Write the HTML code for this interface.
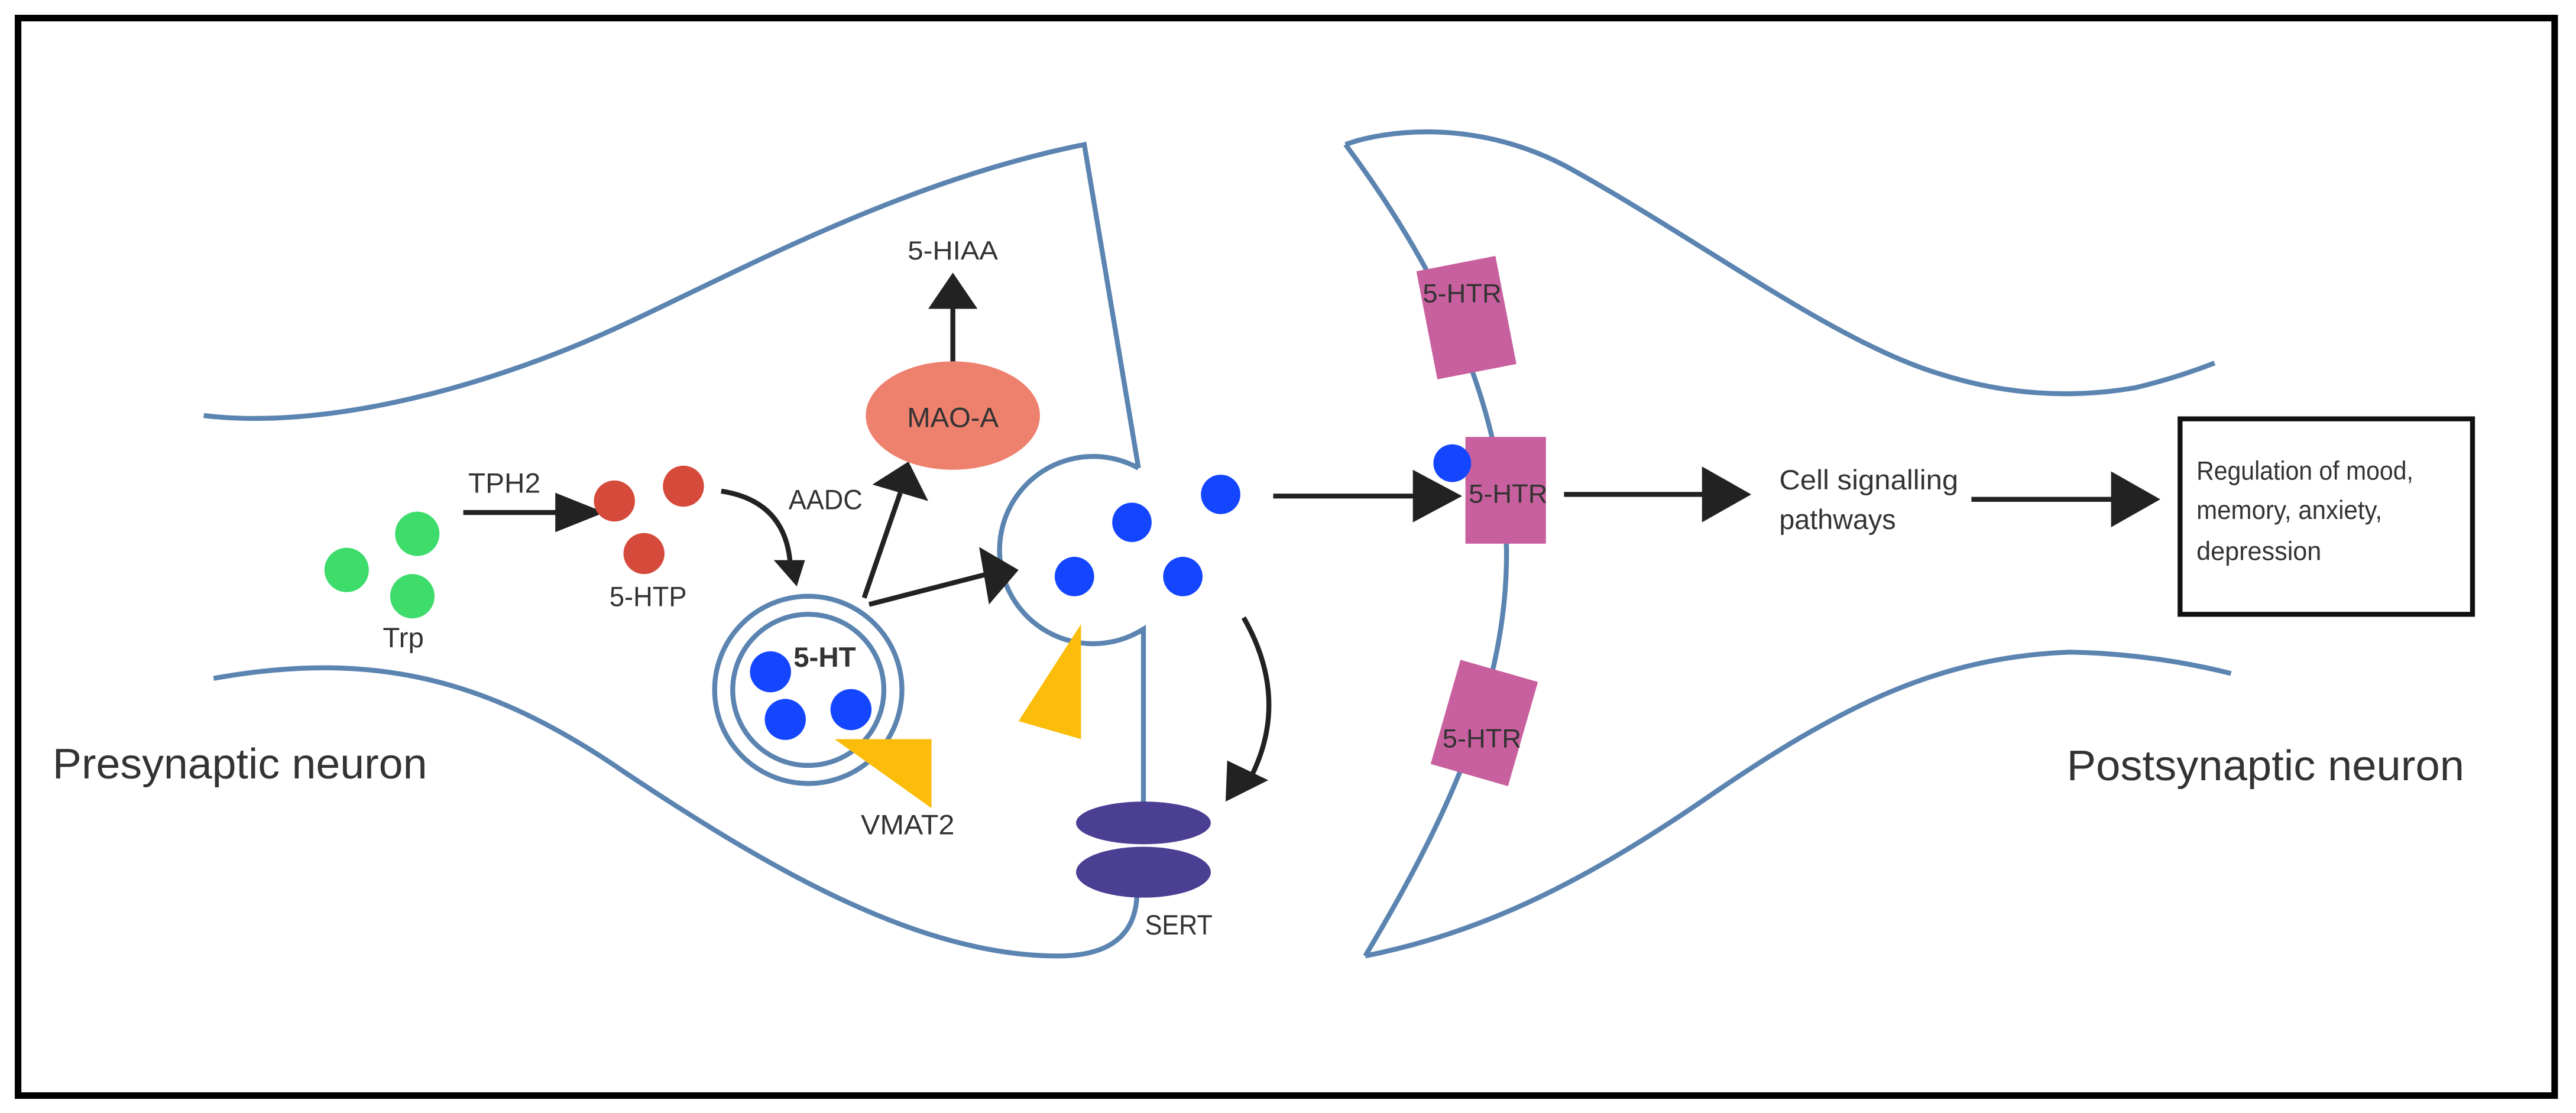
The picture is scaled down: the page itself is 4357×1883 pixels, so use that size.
<!DOCTYPE html>
<html><head><meta charset="utf-8"><style>
html,body{margin:0;padding:0;background:#fff;}
svg{display:block;}
text{font-family:"Liberation Sans",sans-serif;fill:#333;}
</style></head><body>
<svg width="4357" height="1883" viewBox="0 0 1568 677.6" preserveAspectRatio="none" xmlns="http://www.w3.org/2000/svg">
<rect x="11" y="11" width="1544" height="656" fill="#fff" stroke="#000" stroke-width="4"/>

<g fill="none" stroke="#5b84b1" stroke-width="3">
<path d="M124,253 C200,262 300,235 381,197 C450,165 550,110 660,88 L693,285"/>
<path d="M693,285 A57,57 0 1 0 696,383 L696,492"/>
<path d="M692,546 Q690,582 644,582 C560,582 470,530 380,470 C300,415 230,395 130,413"/>
<circle cx="492" cy="420" r="57"/>
<circle cx="492" cy="420" r="46"/>
<path d="M819,88 C840,80 900,70 960,105 C1040,150 1120,210 1182,228 C1220,240 1260,243 1300,236 Q1325,230 1348,221"/>
<path d="M819,88 C880,170 915,250 917,334 C918,420 880,500 831,582"/>
<path d="M831,582 C900,568 960,540 1040,485 C1120,430 1180,400 1260,397 Q1310,398 1358,410"/>
</g>

<g fill="#3ddc6b"><circle cx="211" cy="347" r="13.5"/><circle cx="254" cy="325" r="13.5"/><circle cx="251" cy="363" r="13.5"/></g>
<text x="233" y="394" font-size="17" textLength="25" lengthAdjust="spacingAndGlyphs">Trp</text>
<text x="285" y="300" font-size="17" textLength="44" lengthAdjust="spacingAndGlyphs">TPH2</text>
<line x1="282" y1="312" x2="340" y2="312" stroke="#222" stroke-width="3"/>
<polygon points="338,300 368,312 338,324" fill="#222"/>
<g fill="#d54a3a"><circle cx="374" cy="305" r="12.5"/><circle cx="416" cy="296" r="12.5"/><circle cx="392" cy="337" r="12.5"/></g>
<text x="371" y="369" font-size="17" textLength="47" lengthAdjust="spacingAndGlyphs">5-HTP</text>
<path d="M439,299 Q478,305 481,343" fill="none" stroke="#222" stroke-width="3"/>
<polygon points="471,341 490,341 485,357" fill="#222"/>
<text x="480" y="310" font-size="17" textLength="45" lengthAdjust="spacingAndGlyphs">AADC</text>

<g fill="#1446ff"><circle cx="469" cy="409" r="12.5"/><circle cx="478" cy="438" r="12.5"/><circle cx="518" cy="432" r="12.5"/></g>
<text x="483" y="406" font-size="17" font-weight="bold" fill="#222" textLength="38" lengthAdjust="spacingAndGlyphs">5-HT</text>
<polygon points="508,450 567,450 567,492" fill="#fbbd0a"/>
<text x="524" y="508" font-size="17" textLength="57" lengthAdjust="spacingAndGlyphs">VMAT2</text>

<line x1="526" y1="364" x2="548" y2="300" stroke="#222" stroke-width="3"/>
<polygon points="553,281 531,295 565,305" fill="#222"/>
<line x1="529" y1="368" x2="599" y2="350" stroke="#222" stroke-width="3"/>
<polygon points="620,347 596,333 602,368" fill="#222"/>

<ellipse cx="580" cy="253" rx="53" ry="33" fill="#ee806e"/>
<text x="580" y="260" font-size="17" text-anchor="middle" fill="#222">MAO-A</text>
<line x1="580" y1="220" x2="580" y2="188" stroke="#222" stroke-width="3"/>
<polygon points="565,188 595,188 580,166" fill="#222"/>
<text x="580" y="158" font-size="16" text-anchor="middle" textLength="55" lengthAdjust="spacingAndGlyphs">5-HIAA</text>

<g fill="#1446ff"><circle cx="689" cy="318" r="12"/><circle cx="743" cy="301" r="12"/><circle cx="654" cy="351" r="12"/><circle cx="720" cy="351" r="12"/></g>
<polygon points="658,380 658,450 620,439" fill="#fbbd0a"/>

<path d="M757,376 Q785,425 762,472" fill="none" stroke="#222" stroke-width="3"/>
<polygon points="747,463 772,475 746,488" fill="#222"/>

<ellipse cx="696" cy="501" rx="41" ry="13" fill="#4a3f93"/>
<ellipse cx="696" cy="531" rx="41" ry="15.5" fill="#4a3f93"/>
<text x="697" y="569" font-size="17" textLength="41" lengthAdjust="spacingAndGlyphs">SERT</text>

<line x1="775" y1="302" x2="862" y2="302" stroke="#222" stroke-width="3"/>
<polygon points="860,286 890,302 860,318" fill="#222"/>

<g fill="#c8609f">
<rect x="868" y="160" width="49" height="67" transform="rotate(-11 892 193)"/>
<rect x="892" y="266" width="49" height="65"/>
<rect x="879" y="407" width="49" height="66" transform="rotate(16 903 440)"/>
</g>
<g font-size="16" fill="#222">
<text x="866" y="184" textLength="48" lengthAdjust="spacingAndGlyphs">5-HTR</text>
<text x="894" y="306" textLength="48" lengthAdjust="spacingAndGlyphs">5-HTR</text>
<text x="878" y="455" textLength="48" lengthAdjust="spacingAndGlyphs">5-HTR</text>
</g>
<circle cx="884" cy="282" r="11.5" fill="#1446ff"/>

<line x1="952" y1="301" x2="1040" y2="301" stroke="#222" stroke-width="3"/>
<polygon points="1036,284 1066,301 1036,318" fill="#222"/>
<text x="1083" y="298" font-size="17" textLength="109" lengthAdjust="spacingAndGlyphs">Cell signalling</text>
<text x="1083" y="322" font-size="17" textLength="71" lengthAdjust="spacingAndGlyphs">pathways</text>

<line x1="1200" y1="304" x2="1288" y2="304" stroke="#222" stroke-width="3"/>
<polygon points="1285,287 1315,304 1285,321" fill="#222"/>

<rect x="1327" y="255" width="178" height="119" fill="#fff" stroke="#111" stroke-width="3"/>
<g font-size="16"><text x="1337" y="292" textLength="132" lengthAdjust="spacingAndGlyphs">Regulation of mood,</text>
<text x="1337" y="316" textLength="113" lengthAdjust="spacingAndGlyphs">memory, anxiety,</text>
<text x="1337" y="341" textLength="76" lengthAdjust="spacingAndGlyphs">depression</text></g>

<text x="32" y="474" font-size="26" textLength="228" lengthAdjust="spacingAndGlyphs">Presynaptic neuron</text>
<text x="1258" y="475" font-size="26" textLength="242" lengthAdjust="spacingAndGlyphs">Postsynaptic neuron</text>
</svg>
</body></html>
